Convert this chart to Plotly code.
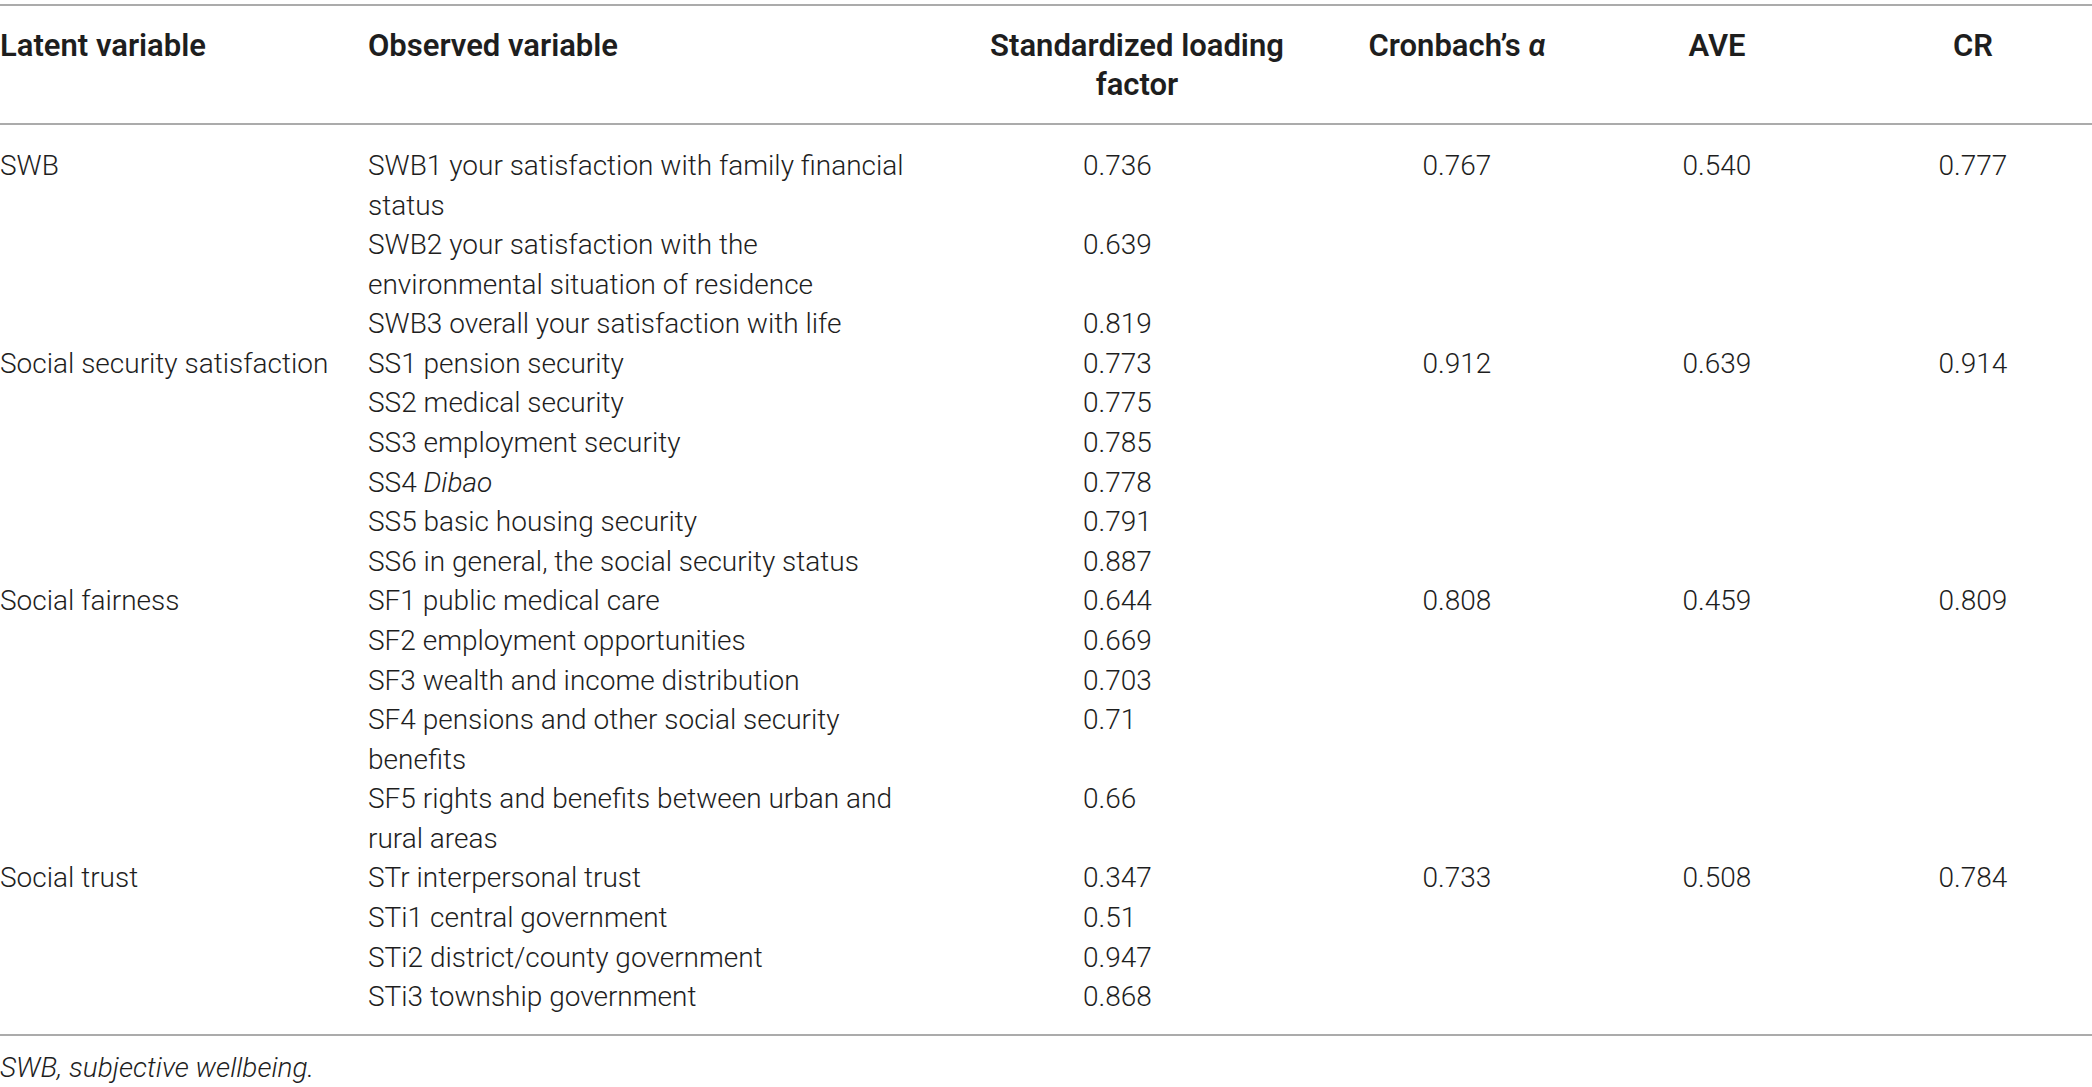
"""
Measurement model table: loadings, Cronbach's alpha, AVE and CR.
Drawn as text traces on a pixel-sized axis so the layout matches the print.
"""
import plotly.graph_objects as go

# --- data -------------------------------------------------------------
header_labels = ["Latent variable", "Observed variable",
                 "Standardized loading<br>factor", "Cronbach’s <i>α</i>",
                 "AVE", "CR"]

latent_vars = ["SWB", "Social security satisfaction", "Social fairness",
               "Social trust"]
group_sizes = [3, 6, 5, 4]

observed_vars = [
    "SWB1 your satisfaction with family financial<br>status",
    "SWB2 your satisfaction with the<br>environmental situation of residence",
    "SWB3 overall your satisfaction with life",
    "SS1 pension security",
    "SS2 medical security",
    "SS3 employment security",
    "SS4 <i>Dibao</i>",
    "SS5 basic housing security",
    "SS6 in general, the social security status",
    "SF1 public medical care",
    "SF2 employment opportunities",
    "SF3 wealth and income distribution",
    "SF4 pensions and other social security<br>benefits",
    "SF5 rights and benefits between urban and<br>rural areas",
    "STr interpersonal trust",
    "STi1 central government",
    "STi2 district/county government",
    "STi3 township government",
]
loadings = [0.736, 0.639, 0.819, 0.773, 0.775, 0.785, 0.778, 0.791, 0.887,
            0.644, 0.669, 0.703, 0.71, 0.66, 0.347, 0.51, 0.947, 0.868]

cronbach = [0.767, 0.912, 0.808, 0.733]
ave = [0.540, 0.639, 0.459, 0.508]
cr = [0.777, 0.914, 0.809, 0.784]

footnote = "<i>SWB, subjective wellbeing.</i>"

# --- layout constants (pixels) ---------------------------------------
W, H = 2092, 1087
FONT = "Roboto"
SIZE = 28
HEAD_SIZE = 31
INK = "#1e1e1e"
RULE = "#8f8f8f"

X_LATENT = 0
X_OBSERVED = 368
X_LOADING = 1083
X_LOADING_HEAD = 1137
X_ALPHA = 1457
X_AVE = 1717
X_CR = 1973

Y_HEAD = 48
HEAD_PITCH = 39
Y_BODY = 168
PITCH = 39.58
Y_RULES = [5, 124, 1035]
Y_FOOT = 1070

# --- work out which visual line each entry starts on -----------------
obs_text, obs_line = [], []
start_line = []
line = 0
for label in observed_vars:
    start_line.append(line)
    for part in label.split("<br>"):
        obs_text.append(part)
        obs_line.append(line)
        line += 1

group_line = []
i = 0
for n in group_sizes:
    group_line.append(start_line[i])
    i += n


def body_y(lines):
    return [Y_BODY + k * PITCH for k in lines]


def text_trace(x, y, text, position, weight=300, size=SIZE):
    return go.Scatter(
        x=x, y=y, text=text, mode="text", textposition=position,
        textfont=dict(family=FONT, size=size, color=INK, weight=weight),
        hoverinfo="skip", showlegend=False, cliponaxis=False,
    )


fig = go.Figure()

# header row
head_x = [X_LATENT, X_OBSERVED, X_LOADING_HEAD, X_ALPHA, X_AVE, X_CR]
head_pos = ["middle right", "middle right", "middle center",
            "middle center", "middle center", "middle center"]
for x, label, pos in zip(head_x, header_labels, head_pos):
    parts = label.split("<br>")
    fig.add_trace(text_trace(
        [x] * len(parts),
        [Y_HEAD + k * HEAD_PITCH for k in range(len(parts))],
        parts, pos, weight=600, size=HEAD_SIZE))

# body
fig.add_trace(text_trace([X_LATENT] * len(latent_vars), body_y(group_line),
                         latent_vars, "middle right"))
fig.add_trace(text_trace([X_OBSERVED] * len(obs_text), body_y(obs_line),
                         obs_text, "middle right"))
fig.add_trace(text_trace([X_LOADING] * len(loadings), body_y(start_line),
                         [str(v) for v in loadings], "middle right"))
for x, vals in [(X_ALPHA, cronbach), (X_AVE, ave), (X_CR, cr)]:
    fig.add_trace(text_trace([x] * len(vals), body_y(group_line),
                             [f"{v:.3f}" for v in vals], "middle center"))

# footnote
fig.add_trace(text_trace([X_LATENT], [Y_FOOT], [footnote], "middle right"))

for y in Y_RULES:
    fig.add_shape(type="line", xref="x", yref="y", x0=0, x1=W, y0=y, y1=y,
                  line=dict(color=RULE, width=1.6))

fig.update_layout(
    width=W, height=H,
    margin=dict(l=0, r=0, t=0, b=0),
    paper_bgcolor="white", plot_bgcolor="white",
    xaxis=dict(range=[0, W], visible=False, fixedrange=True),
    yaxis=dict(range=[H, 0], visible=False, fixedrange=True),
)

fig.write_html(
    "out.html",
    config={"displayModeBar": False},
    post_script="document.body.style.margin='0';"
                "document.body.style.overflow='hidden';",
)
